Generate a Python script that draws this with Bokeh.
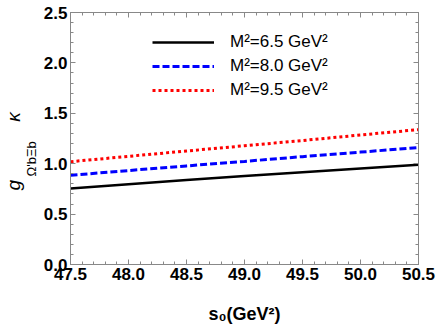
from bokeh.plotting import figure
from bokeh.models import (LinearAxis, Title, SingleIntervalTicker, Range1d,
                          CustomJSTickFormatter)
from bokeh.embed import file_html
from bokeh.resources import INLINE

# ---- data ----
s0 = [47.5, 48.0, 48.5, 49.0, 49.5, 50.0, 50.5]
g_m65 = [0.755, 0.797, 0.838, 0.877, 0.916, 0.953, 0.990]
g_m80 = [0.885, 0.932, 0.978, 1.023, 1.070, 1.115, 1.160]
g_m95 = [1.020, 1.073, 1.126, 1.178, 1.230, 1.285, 1.338]
series_labels = ["M\u00b2=6.5 GeV\u00b2", "M\u00b2=8.0 GeV\u00b2", "M\u00b2=9.5 GeV\u00b2"]
x_label = "s\u2080(GeV\u00b2)"
y_label_main = "g" + "\u00a0" * 11 + "\u03ba"
y_label_sub = "\u03a9'b\u039eb"

W, H = 436, 327
FL, FR, FT, FB = 62, 418, 12, 264   # frame edges in page pixels
FONT = "Liberation Sans"
AX = "#888888"

p = figure(width=W, height=H, output_backend="svg", toolbar_location=None,
           x_range=Range1d(47.5, 50.5), y_range=Range1d(0, 2.5),
           min_border_left=FL, min_border_right=W - FR, min_border_top=FT,
           min_border_bottom=H - FB)
p.grid.visible = False
p.outline_line_color = AX
p.background_fill_color = "white"

p.line(s0, g_m65, line_color="black", line_width=2.5, legend_label=series_labels[0])
p.line(s0, g_m80, line_color="#0000ff", line_width=3, line_dash="7 3",
       legend_label=series_labels[1])
p.line(s0, g_m95, line_color="#ff0000", line_width=3, line_dash="3 3",
       legend_label=series_labels[2])


def style_axis(ax, labels=True):
    ax.axis_line_color = AX
    ax.major_tick_line_color = AX
    ax.minor_tick_line_color = AX
    ax.major_tick_in = 5
    ax.major_tick_out = 0
    ax.minor_tick_in = 3
    ax.minor_tick_out = 0
    ax.major_label_standoff = 3
    if labels:
        ax.major_label_text_font = FONT
        ax.major_label_text_font_style = "bold"
        ax.major_label_text_font_size = "17px"
        ax.major_label_text_color = "black"
    else:
        ax.major_label_text_font_size = "0px"
        ax.major_label_standoff = 0
        ax.formatter = CustomJSTickFormatter(code="return ''")


p.xaxis.ticker = SingleIntervalTicker(interval=0.5, num_minor_ticks=5)
p.yaxis.ticker = SingleIntervalTicker(interval=0.5, num_minor_ticks=5)
p.xaxis[0].formatter = CustomJSTickFormatter(code="return tick.toFixed(1)")
p.yaxis[0].formatter = CustomJSTickFormatter(code="return tick.toFixed(1)")
style_axis(p.xaxis[0])
style_axis(p.yaxis[0])
p.yaxis[0].major_label_standoff = 3

p.xaxis[0].axis_label = x_label
p.xaxis[0].axis_label_text_font = FONT
p.xaxis[0].axis_label_text_font_style = "bold"
p.xaxis[0].axis_label_text_font_size = "18px"
p.xaxis[0].axis_label_text_color = "black"
p.xaxis[0].axis_label_standoff = 21

top = LinearAxis(ticker=SingleIntervalTicker(interval=0.5, num_minor_ticks=5))
right = LinearAxis(ticker=SingleIntervalTicker(interval=0.5, num_minor_ticks=5))
style_axis(top, labels=False)
style_axis(right, labels=False)
p.add_layout(top, "above")
p.add_layout(right, "right")

# y-axis label built from two rotated title rows (subscripts nearer the axis)
t_sub = Title(text=y_label_sub, text_font=FONT, text_font_size="13px",
              text_font_style="normal", text_color="black", align="left",
              offset=FB - 176, standoff=0, vertical_align="top",
              text_line_height=0.6)
t_main = Title(text=y_label_main, text_font=FONT, text_font_size="19px",
               text_font_style="italic", text_color="black", align="left",
               offset=FB - 190, standoff=0)
p.add_layout(t_sub, "left")
p.add_layout(t_main, "left")

# legend
lg = p.legend[0]
lg.border_line_color = None
lg.background_fill_alpha = 0
lg.padding = 0
lg.margin = 0
lg.spacing = 0
lg.glyph_width = 62
lg.glyph_height = 24
lg.label_height = 24
lg.label_standoff = 16
lg.label_text_font = FONT
lg.label_text_font_size = "17px"
lg.label_text_color = "black"
lg.location = (144 - FL, (FB - FT) - (30 - FT) - 72)

open("out.html", "w").write(file_html(p, INLINE))
